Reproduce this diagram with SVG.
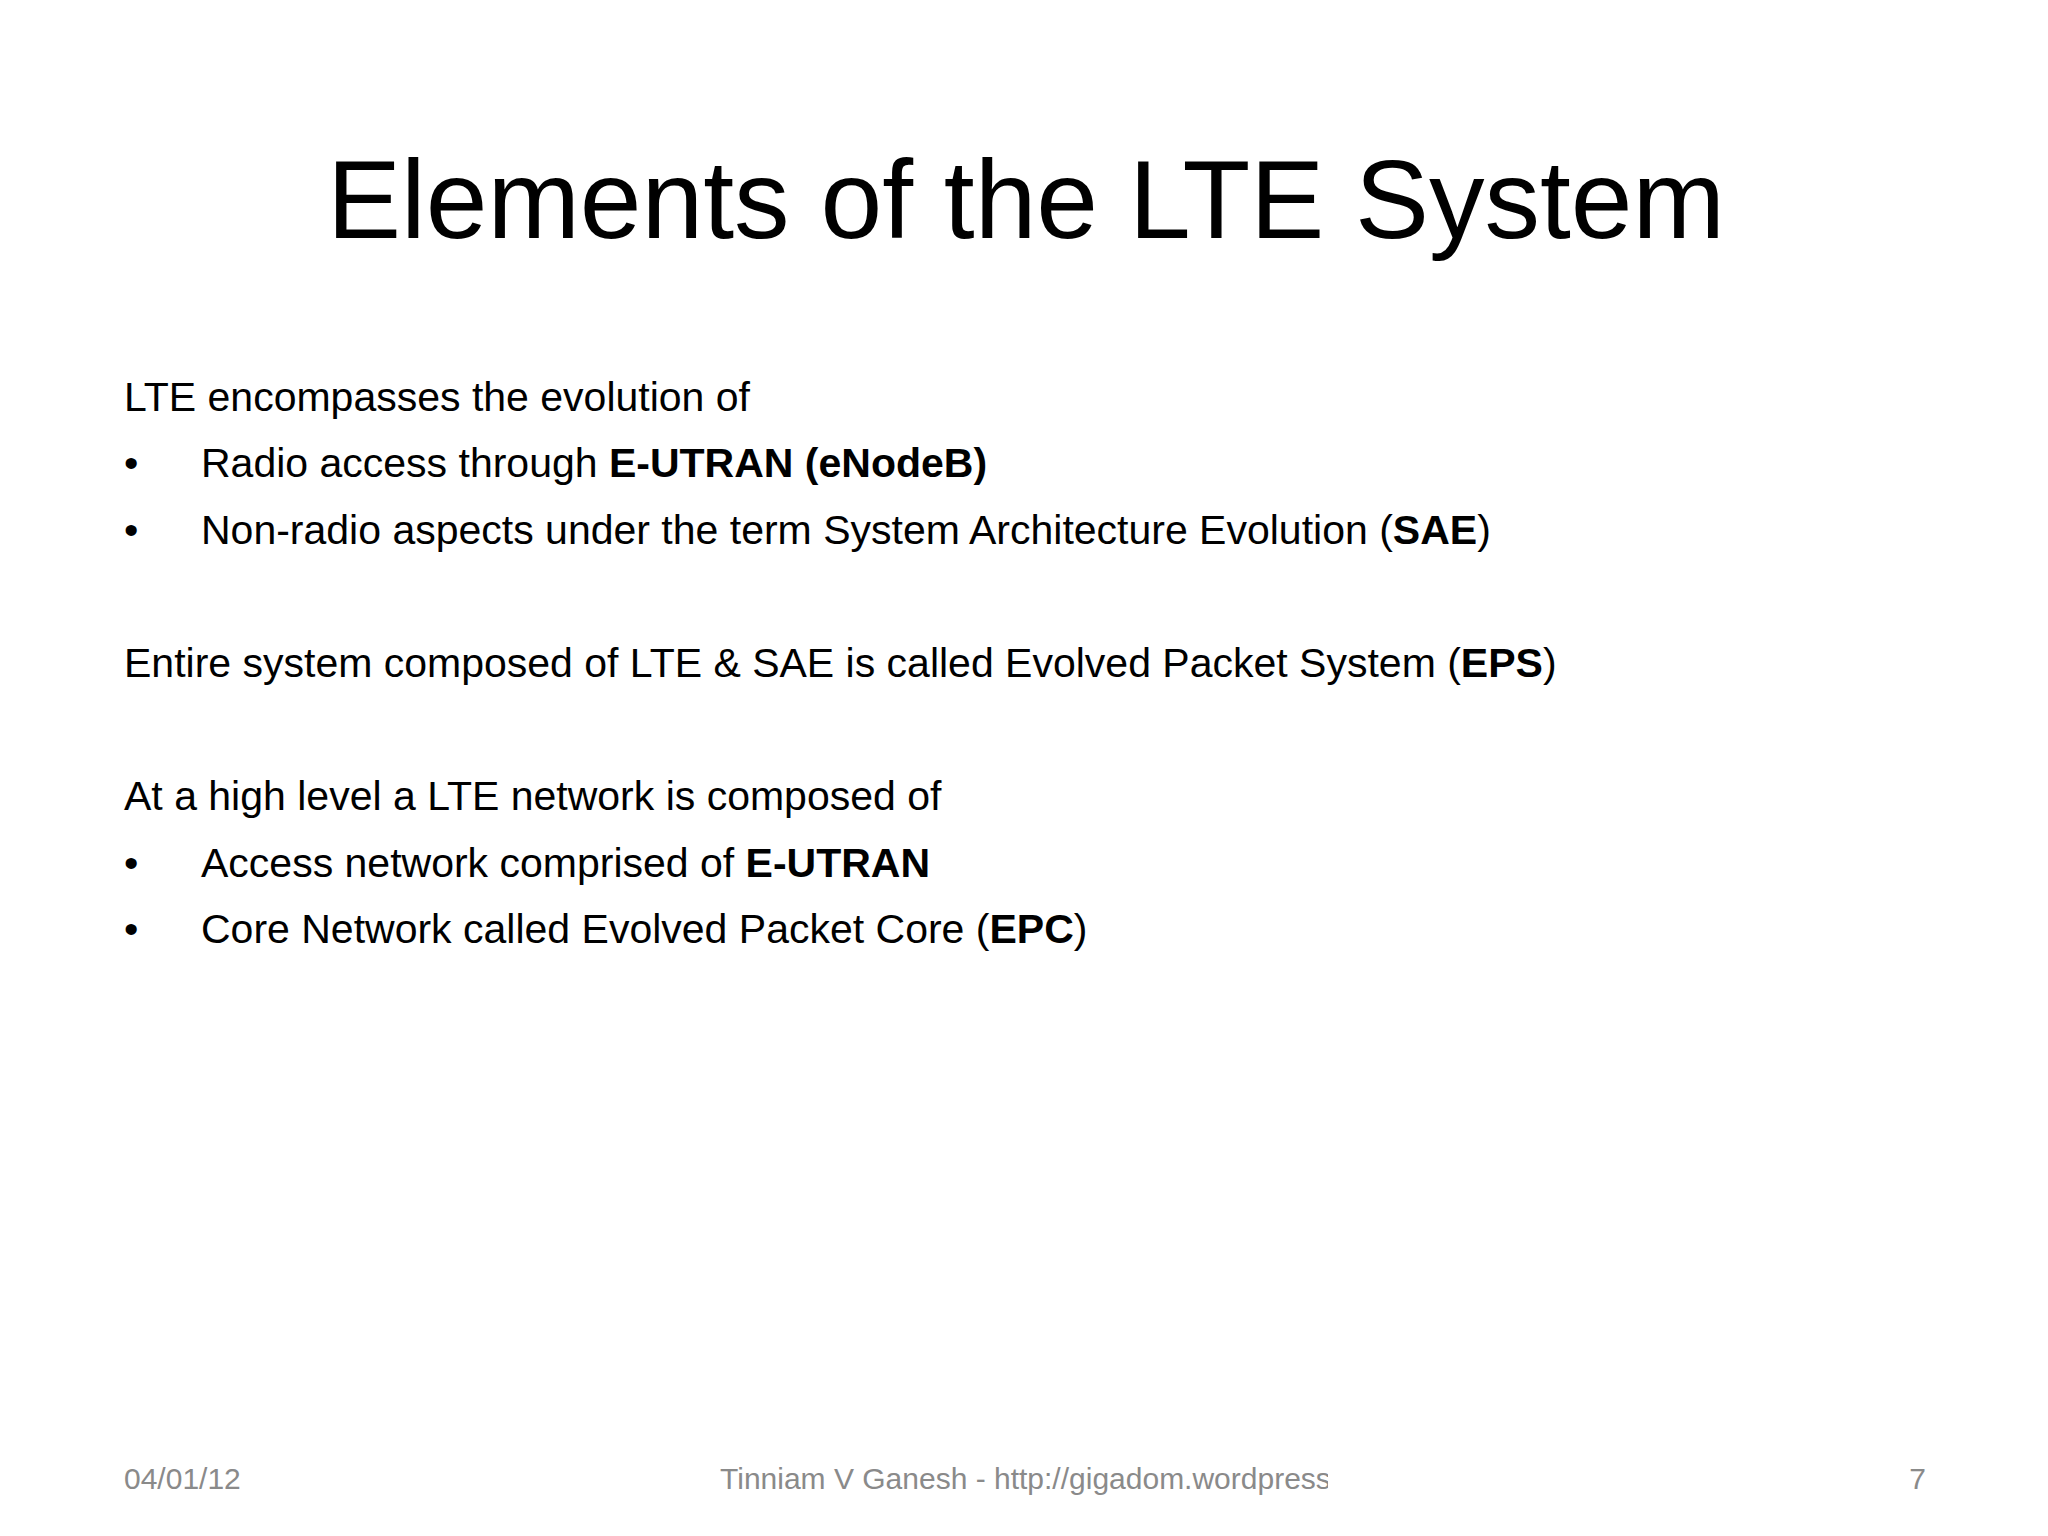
<svg xmlns="http://www.w3.org/2000/svg" width="2048" height="1536" viewBox="0 0 2048 1536">
<style>
.t{font-family:"Liberation Sans",Arial,sans-serif;font-size:41px;fill:#000}
.b{font-weight:bold}
.f{font-family:"Liberation Sans",Arial,sans-serif;font-size:30px;fill:#8a8a8a}
</style>
<defs><clipPath id="fc"><rect x="700" y="1450" width="628" height="70"/></clipPath></defs>
<rect width="2048" height="1536" fill="#fff"/>
<text x="1026" y="238" text-anchor="middle" font-family="Liberation Sans, Arial, sans-serif" font-size="112" textLength="1398" lengthAdjust="spacingAndGlyphs">Elements of the LTE System</text>
<g id="body">
<text class="t" x="124" y="411">LTE encompasses the evolution of</text>
<text class="t" x="124" y="477">•</text>
<text class="t" x="201" y="477">Radio access through <tspan class="b">E-UTRAN  (eNodeB)</tspan></text>
<text class="t" x="124" y="544">•</text>
<text class="t" x="201" y="544">Non-radio aspects under the term System Architecture Evolution (<tspan class="b">SAE</tspan>)</text>
<text class="t" x="124" y="677">Entire system composed of  LTE &amp; SAE is called Evolved Packet System (<tspan class="b">EPS</tspan>)</text>
<text class="t" x="124" y="810">At a high level a LTE network is composed of</text>
<text class="t" x="124" y="877" font-size="46">•</text>
<text class="t" x="201" y="877">Access network comprised of <tspan class="b">E-UTRAN</tspan></text>
<text class="t" x="124" y="943" font-size="46">•</text>
<text class="t" x="201" y="943">Core Network called Evolved Packet Core (<tspan class="b">EPC</tspan>)</text>
</g>
<g id="footer">
<text class="f" x="124" y="1489">04/01/12</text>
<text class="f" x="720" y="1489" clip-path="url(#fc)">Tinniam V Ganesh - http://gigadom.wordpress.com</text>
<text class="f" x="1926" y="1489" text-anchor="end">7</text>
</g>
</svg>
